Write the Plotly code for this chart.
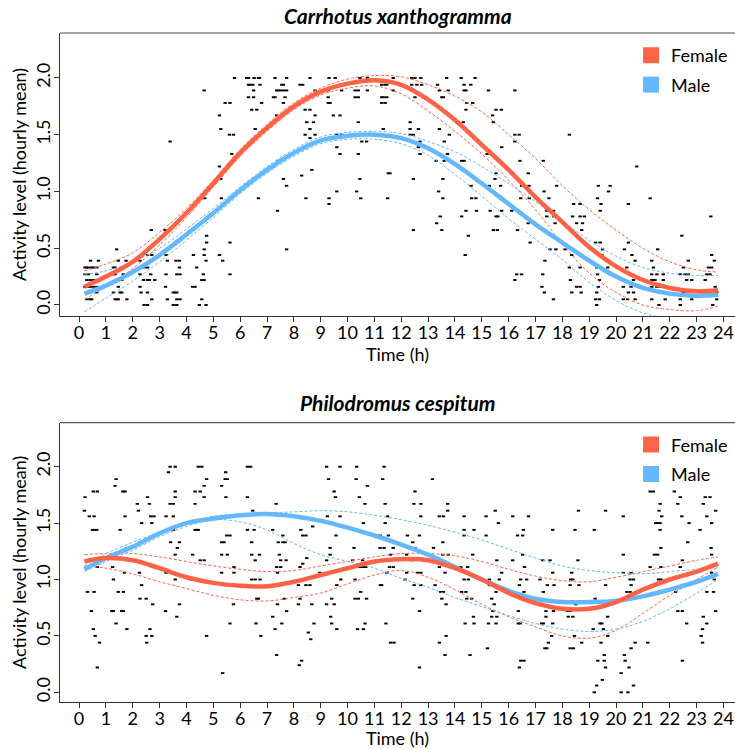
import plotly.graph_objects as go

# ---------------- data ----------------
HOURS = list(range(0, 25))
Y_TICKS = [0.0, 0.5, 1.0, 1.5, 2.0]
Y_TICK_LABELS = ["0.0", "0.5", "1.0", "1.5", "2.0"]

FIT_H = [0.2] + list(range(1, 24)) + [23.8]

# Carrhotus xanthogramma - fitted curves with upper / lower confidence limits
C_FEMALE = [0.16, 0.25, 0.38, 0.58, 0.81, 1.07, 1.34, 1.56, 1.75, 1.88, 1.95, 1.98, 1.94,
            1.81, 1.63, 1.41, 1.19, 0.95, 0.73, 0.51, 0.34, 0.22, 0.15, 0.12, 0.13]
C_FEMALE_UP = [0.30, 0.36, 0.46, 0.64, 0.85, 1.10, 1.37, 1.59, 1.78, 1.91, 1.99, 2.02, 2.01,
               1.94, 1.84, 1.70, 1.50, 1.29, 1.05, 0.84, 0.66, 0.50, 0.38, 0.31, 0.29]
C_FEMALE_LO = [0.05, 0.16, 0.32, 0.53, 0.77, 1.04, 1.31, 1.53, 1.72, 1.85, 1.91, 1.93, 1.86,
               1.71, 1.53, 1.33, 1.10, 0.84, 0.54, 0.28, 0.11, 0.00, -0.04, -0.05, -0.01]
C_MALE = [0.10, 0.17, 0.29, 0.44, 0.62, 0.81, 1.01, 1.19, 1.34, 1.45, 1.49, 1.50, 1.47,
          1.38, 1.24, 1.07, 0.89, 0.71, 0.55, 0.39, 0.25, 0.15, 0.10, 0.08, 0.09]
C_MALE_UP = [0.27, 0.30, 0.38, 0.50, 0.67, 0.85, 1.04, 1.22, 1.37, 1.48, 1.52, 1.53, 1.51,
             1.44, 1.35, 1.22, 1.07, 0.91, 0.74, 0.57, 0.43, 0.33, 0.28, 0.26, 0.26]
C_MALE_LO = [-0.06, 0.06, 0.21, 0.38, 0.57, 0.77, 0.98, 1.16, 1.31, 1.42, 1.46, 1.46, 1.42,
             1.32, 1.15, 0.96, 0.76, 0.58, 0.40, 0.20, 0.04, -0.07, -0.12, -0.13, -0.13]

# Philodromus cespitum - fitted curves with upper / lower confidence limits
P_FEMALE = [1.16, 1.19, 1.17, 1.10, 1.02, 0.97, 0.945, 0.94, 0.98, 1.04, 1.10, 1.16, 1.18,
            1.17, 1.10, 1.00, 0.88, 0.79, 0.74, 0.74, 0.80, 0.91, 1.00, 1.07, 1.14]
P_FEMALE_UP = [1.22, 1.23, 1.23, 1.20, 1.16, 1.12, 1.09, 1.07, 1.08, 1.12, 1.16, 1.20, 1.23,
               1.23, 1.21, 1.16, 1.09, 1.03, 0.99, 0.98, 1.02, 1.07, 1.12, 1.17, 1.20]
P_FEMALE_LO = [1.12, 1.10, 1.05, 0.98, 0.92, 0.86, 0.82, 0.81, 0.84, 0.88, 0.96, 1.04, 1.08,
               1.02, 0.91, 0.78, 0.67, 0.58, 0.50, 0.48, 0.55, 0.70, 0.86, 1.00, 1.11]
P_MALE = [1.09, 1.19, 1.29, 1.41, 1.50, 1.54, 1.57, 1.58, 1.56, 1.52, 1.46, 1.39, 1.31,
          1.22, 1.11, 1.00, 0.90, 0.83, 0.80, 0.80, 0.81, 0.85, 0.91, 0.98, 1.05]
P_MALE_UP = [1.12, 1.23, 1.33, 1.42, 1.50, 1.56, 1.58, 1.59, 1.60, 1.61, 1.60, 1.57, 1.53,
             1.48, 1.42, 1.35, 1.27, 1.19, 1.12, 1.08, 1.06, 1.05, 1.07, 1.09, 1.11]
P_MALE_LO = [1.07, 1.16, 1.26, 1.38, 1.47, 1.53, 1.51, 1.44, 1.32, 1.22, 1.16, 1.10, 1.01,
             0.93, 0.84, 0.76, 0.68, 0.61, 0.56, 0.54, 0.56, 0.63, 0.74, 0.88, 1.00]

# observed hourly means: (activity level, [hours ...])
C_POINTS = [
    (0.00, [2.42, 2.55, 3.51, 3.64, 4.48, 4.73, 19.28, 21.6, 22.39, 23.6]),
    (0.05, [0.29, 0.41, 0.47, 1.34, 1.40, 1.46, 1.78, 2.71, 3.29, 3.64, 3.76, 4.57, 17.67, 19.24,
            19.38, 20.27, 20.43, 20.71, 21.33, 21.83, 22.39, 22.82, 23.75]),
    (0.11, [0.41, 0.66, 1.28, 1.53, 1.59, 2.31, 2.55, 3.51, 3.58, 3.64, 17.33, 18.35, 18.70,
            19.28, 20.46, 20.65, 21.83, 22.51, 23.5, 23.75]),
    (0.16, [0.22, 0.35, 0.41, 0.53, 0.66, 1.46, 2.27, 3.22, 4.23, 4.32, 17.24, 18.53, 18.66,
            19.34, 20.27, 20.56, 21.33, 21.52, 21.64, 23.69]),
    (0.22, [0.29, 0.41, 0.53, 0.60, 0.78, 1.59, 2.40, 2.55, 2.62, 2.82, 4.57, 4.66, 16.23, 18.30,
            19.38, 20.65, 21.33, 21.39, 21.45, 21.76, 22.63, 22.82, 23.32]),
    (0.27, [0.22, 0.35, 0.66, 1.28, 1.34, 1.65, 2.27, 2.67, 3.24, 3.64, 3.76, 4.63, 5.62, 16.30,
            16.48, 17.27, 19.31, 19.78, 21.33, 21.52, 21.76, 22.39, 22.57, 22.69, 23.38, 23.5]),
    (0.33, [0.22, 0.29, 0.35, 0.47, 0.53, 0.66, 1.28, 1.34, 2.42, 2.55, 3.74, 4.38, 18.26, 18.66,
            19.28, 19.69, 20.40, 21.39, 22.51, 23.44, 23.56]),
    (0.39, [0.43, 0.72, 1.46, 1.75, 2.27, 3.29, 3.61, 3.74, 4.73, 5.35, 17.35, 19.72, 20.71,
            21.33, 22.69, 23.66]),
    (0.44, [2.55, 2.71, 3.24, 4.26, 4.66, 5.23, 14.38, 18.35, 19.47, 20.59, 23.56]),
    (0.49, [1.40, 4.66, 7.73, 17.54, 17.76, 18.10, 19.50, 20.31, 21.55]),
    (0.55, [4.75, 5.62, 16.80, 19.24, 19.41, 20.46]),
    (0.61, [4.75, 14.50, 22.45]),
    (0.66, [2.69, 3.20, 4.26, 12.45, 13.51, 15.43, 15.58, 16.33, 18.72]),
    (0.72, [13.32, 16.73, 17.73, 18.53, 18.75]),
    (0.78, [13.45, 14.25, 15.53, 15.60, 17.42, 17.69, 18.38, 18.66, 18.82, 23.53]),
    (0.83, [7.39, 14.41, 14.80, 15.31, 15.74, 16.11, 16.36, 17.42, 17.67, 19.41]),
    (0.89, [9.31, 18.42, 18.66, 19.44, 20.46]),
    (0.94, [4.68, 5.30, 6.68, 8.45, 9.31, 10.49, 11.49, 13.55, 14.62, 14.78, 16.45, 16.77, 17.50,
            19.31, 21.27]),
    (1.00, [9.6, 10.34, 13.39, 17.32, 19.72]),
    (1.05, [7.73, 14.60, 15.28, 15.70, 16.48, 16.76, 17.79, 19.34, 19.78]),
    (1.11, [5.28, 7.61, 10.46, 12.45, 13.55, 15.49]),
    (1.14, [8.29]),
    (1.16, [11.52, 11.58, 15.53, 16.73]),
    (1.19, [8.67]),
    (1.22, [5.23, 7.24, 20.77]),
    (1.27, [7.42, 13.30, 13.60, 14.25, 14.34, 15.62, 16.42, 17.29]),
    (1.33, [5.69, 9.72, 10.40, 12.70, 13.72, 15.20]),
    (1.39, [9.6, 12.64, 15.74]),
    (1.44, [3.39, 10.53, 10.71, 12.70, 13.60, 16.23]),
    (1.47, [8.6]),
    (1.50, [5.60, 5.75, 8.42, 8.79, 9.60, 9.78, 12.33, 12.45, 13.79, 16.23, 16.39, 18.26]),
    (1.55, [5.28, 6.56, 8.60, 11.33, 12.33, 12.64, 13.42]),
    (1.61, [8.48, 8.73, 10.40, 12.33, 14.31, 15.43]),
    (1.67, [5.23, 7.36, 8.79, 9.47, 9.72, 15.40]),
    (1.72, [6.43, 6.62, 8.42, 8.60, 14.41, 15.53, 15.73]),
    (1.78, [5.44, 5.62, 6.80, 7.61, 9.28, 9.35, 11.27, 11.40, 14.44, 14.66]),
    (1.83, [6.31, 6.50, 7.24, 7.30, 7.67, 8.54, 8.60, 9.28, 10.28, 10.40, 11.27, 11.33, 11.46,
            12.51, 12.80, 13.51, 13.57]),
    (1.89, [4.66, 6.50, 7.36, 7.42, 7.49, 7.61, 7.73, 8.79, 9.28, 9.78, 10.28, 10.40, 10.74,
            11.70, 13.42, 13.75, 14.34, 14.41, 15.25, 16.23]),
    (1.94, [6.31, 6.37, 6.47, 6.74, 7.55, 7.61, 8.23, 8.33, 11.27, 11.40, 11.46, 12.39, 12.58,
            12.76, 13.35, 14.34, 14.59]),
    (2.00, [5.79, 6.24, 6.31, 6.52, 6.68, 6.72, 7.30, 7.73, 8.60, 9.31, 9.54, 10.46, 10.74, 11.70,
            12.39, 12.51, 12.73, 13.69, 14.23, 14.75]),
]

P_POINTS = [
    (2.00, [3.39, 3.58, 4.44, 4.57, 6.27, 6.39, 9.22, 9.72, 10.34, 11.36]),
    (1.95, [3.33, 5.46]),
    (1.89, [1.38, 4.75, 5.44, 5.52, 9.29, 10.32, 11.31, 13.16]),
    (1.83, [1.34, 4.66, 5.31, 10.74]),
    (1.78, [0.53, 0.68, 1.63, 1.71, 3.58, 4.32, 4.51, 9.50, 12.51, 21.27, 21.39, 22.17]),
    (1.73, [0.22, 2.55, 3.58, 4.66, 5.47, 6.27, 9.55, 10.44, 22.39, 23.32, 23.50]),
    (1.67, [2.17, 2.62, 3.39, 3.51, 4.32, 7.34, 10.65, 11.40, 12.47, 12.73, 13.73, 21.64, 22.30,
            23.25]),
    (1.61, [0.20, 2.21, 6.47, 13.73, 15.50, 18.60, 19.61, 21.60, 23.71]),
    (1.56, [0.38, 0.56, 1.71, 2.67, 2.79, 3.24, 3.51, 9.25, 9.72, 11.49, 12.73, 13.42, 13.57,
            14.34, 15.16, 16.15, 16.74, 20.27, 21.70, 22.45, 23.38]),
    (1.50, [2.33, 2.71, 10.59, 11.40, 15.62, 21.48, 21.55, 21.64, 22.72, 23.56]),
    (1.47, [8.70]),
    (1.44, [0.50, 0.57, 0.66, 1.53, 3.51, 4.32, 4.38, 4.44, 6.27, 6.52, 7.21, 8.26, 14.34, 14.71,
            16.55, 17.64, 18.47, 19.19, 21.64, 23.13]),
    (1.39, [5.50, 5.62, 7.59, 8.33, 8.45, 9.57, 11.22, 11.52, 12.23, 12.68, 14.34, 15.16, 16.33,
            16.52]),
    (1.33, [2.27, 3.41, 3.74, 5.31, 5.40, 6.43, 7.42, 7.59, 7.67, 12.43, 13.55, 22.67]),
    (1.28, [1.78, 3.66, 9.35, 10.24, 11.21, 11.36, 11.70, 12.51, 13.20, 21.67, 23.54]),
    (1.22, [3.58, 4.23, 5.31, 5.52, 6.43, 6.72, 7.46, 9.35, 11.60, 12.20, 13.55, 13.75, 14.66,
            16.52, 20.27, 21.43, 21.55, 23.56]),
    (1.19, [8.48]),
    (1.17, [4.51, 4.66, 6.56, 7.51, 7.71, 9.22, 10.19, 10.56, 12.39, 13.45, 15.56, 16.15, 17.27,
            17.54, 18.58, 22.47]),
    (1.14, [8.33]),
    (1.11, [0.68, 1.25, 5.77, 7.36, 7.51, 8.23, 10.44, 10.56, 10.68, 11.56, 11.70, 13.42, 14.22,
            14.47, 16.59, 21.27, 21.67, 22.39]),
    (1.06, [1.69, 2.25, 3.24, 5.31, 5.77, 7.39, 8.97, 11.46, 12.20, 12.60, 12.73, 13.63, 15.74,
            17.64, 18.35, 20.27, 20.56, 23.56]),
    (1.00, [1.28, 3.58, 4.17, 6.43, 6.56, 6.74, 9.75, 10.28, 12.14, 14.34, 14.50, 15.28, 15.65,
            16.45, 16.67, 17.17, 18.31, 18.39, 20.52, 20.65, 21.58, 21.67, 23.66]),
    (0.95, [2.33, 5.40, 5.62, 8.17, 8.45, 8.60, 9.60, 11.22, 11.27, 12.48, 12.73, 13.26, 15.28,
            15.46, 16.40, 17.44, 17.69, 18.29, 18.62, 19.61, 20.56]),
    (0.89, [0.31, 0.56, 1.46, 1.65, 10.49, 13.47, 13.57, 14.25, 14.41, 15.53, 16.57, 17.29,
            20.40, 20.52, 22.22, 23.38, 23.63]),
    (0.83, [2.27, 2.50, 6.62, 6.68, 7.64, 8.23, 9.41, 10.28, 10.40, 10.71, 12.43, 13.51, 14.44,
            14.62, 15.37, 19.22, 20.24, 20.31, 20.56]),
    (0.78, [2.74, 3.74, 5.75, 7.39, 8.17, 8.67, 9.22, 9.50, 13.67, 15.46, 18.50]),
    (0.72, [0.46, 1.22, 1.28, 1.59, 1.65, 3.22, 7.73, 12.68, 15.41, 16.36, 17.39, 17.67, 18.19,
            18.31, 22.30, 22.47, 23.71]),
    (0.67, [3.64, 7.21, 9.37, 14.69, 15.37, 15.56, 17.39, 18.22, 18.39, 19.69, 23.25]),
    (0.61, [1.38, 5.62, 6.59, 7.55, 8.75, 9.41, 10.65, 11.43, 14.38, 14.71, 15.25, 15.53, 16.36,
            16.43, 17.23, 17.29, 17.64, 19.40, 19.47, 22.63, 23.38]),
    (0.56, [0.53, 1.78, 2.64, 7.30, 9.60, 10.37, 10.59, 19.15, 19.53, 23.22]),
    (0.53, [8.54]),
    (0.50, [0.60, 2.50, 2.71, 4.75, 6.77, 13.67, 17.60, 18.45, 19.69, 23.17]),
    (0.47, [8.63]),
    (0.44, [0.76, 2.52, 11.60, 11.73, 13.42, 17.48, 18.72, 19.44, 20.71, 21.18, 23.22]),
    (0.39, [15.21, 17.35, 17.42, 18.29, 18.41, 20.56]),
    (0.33, [7.36, 13.63, 14.56, 19.56, 20.31]),
    (0.28, [8.29, 16.45, 16.57, 19.32, 19.56, 20.34, 22.47]),
    (0.24, [8.20]),
    (0.22, [0.68, 12.68, 16.40, 19.61, 20.48]),
    (0.17, [5.35, 20.19]),
    (0.11, [19.49]),
    (0.06, [19.28, 20.65]),
    (0.00, [19.19, 20.19, 20.44]),
]

TITLES = ["Carrhotus xanthogramma", "Philodromus cespitum"]
SEX_NAMES = ["Female", "Male"]
RED = "#FF6347"
BLUE = "#63B8FF"
FONT = "Lato"


def flatten(rows):
    xs, ys = [], []
    for v, hs in rows:
        for h in hs:
            xs.append(h)
            ys.append(v)
    return xs, ys


fig = go.Figure()

panels = [
    ("x", "y", C_POINTS, (C_FEMALE, C_FEMALE_UP, C_FEMALE_LO),
     (C_MALE, C_MALE_UP, C_MALE_LO), "legend"),
    ("x2", "y2", P_POINTS, (P_FEMALE, P_FEMALE_UP, P_FEMALE_LO),
     (P_MALE, P_MALE_UP, P_MALE_LO), "legend2"),
]

for xa, ya, pts, fem, mal, lg in panels:
    px, py = flatten(pts)
    fig.add_trace(go.Scatter(
        x=px, y=py, mode="markers", xaxis=xa, yaxis=ya, showlegend=False,
        marker=dict(symbol="line-ew", size=2.4, color="black",
                    line=dict(width=1.9, color="black")),
        hoverinfo="skip"))
    for curves, col in [(fem, RED), (mal, BLUE)]:
        for band in curves[1:]:
            fig.add_trace(go.Scatter(
                x=FIT_H, y=band,
                mode="lines", line=dict(color=col, width=1, dash="3px,2px", shape="spline"),
                xaxis=xa, yaxis=ya, showlegend=False, hoverinfo="skip"))
    for curves, col in [(mal, BLUE), (fem, RED)]:
        fig.add_trace(go.Scatter(
            x=FIT_H, y=curves[0], mode="lines",
            line=dict(color=col, width=4.5, shape="spline"),
            xaxis=xa, yaxis=ya, showlegend=False, hoverinfo="skip"))
    for name, col in zip(SEX_NAMES, [RED, BLUE]):
        fig.add_trace(go.Scatter(
            x=[None], y=[None], mode="markers", name=name, legend=lg,
            legendgroup=name + lg, xaxis=xa, yaxis=ya,
            marker=dict(symbol="square", size=16, color=col)))

axis_common = dict(showgrid=False, zeroline=False, showline=True, linecolor="#333",
                   linewidth=1, ticks="outside", ticklen=5, tickcolor="#333",
                   tickfont=dict(family=FONT, size=18, color="black"))

xcommon = dict(axis_common, range=[-0.71, 24.43], tickmode="array", tickvals=HOURS,
               ticktext=[str(h) for h in HOURS], ticklabelstandoff=-5,
               title=dict(text="Time (h)", font=dict(family=FONT, size=18, color="black"),
                          standoff=0))
ycommon = dict(axis_common, tickmode="array", tickvals=Y_TICKS, ticktext=Y_TICK_LABELS,
               tickangle=-90, ticklabelstandoff=-3,
               title=dict(text="Activity level (hourly mean)",
                          font=dict(family=FONT, size=18, color="black"), standoff=0))

fig.update_layout(
    width=735, height=749,
    margin=dict(l=60, r=0, t=33, b=47),
    plot_bgcolor="white", paper_bgcolor="white",
    xaxis=dict(xcommon, domain=[0, 1], anchor="y"),
    yaxis=dict(ycommon, domain=[0.577, 1.0], anchor="x", range=[-0.097, 2.396]),
    xaxis2=dict(xcommon, domain=[0, 1], anchor="y2"),
    yaxis2=dict(ycommon, domain=[0.0, 0.4175], anchor="x2", range=[-0.086, 2.39]),
    legend=dict(x=0.846, y=0.994, xanchor="left", yanchor="top", tracegroupgap=3,
                bgcolor="rgba(0,0,0,0)", font=dict(family=FONT, size=18, color="black")),
    legend2=dict(x=0.846, y=0.412, xanchor="left", yanchor="top", tracegroupgap=3,
                 bgcolor="rgba(0,0,0,0)", font=dict(family=FONT, size=18, color="black")),
    shapes=[
        dict(type="line", xref="x domain", yref="y domain", x0=0, x1=1, y0=1, y1=1,
             line=dict(color="#888", width=1.5)),
        dict(type="line", xref="x2 domain", yref="y2 domain", x0=0, x1=1, y0=1, y1=1,
             line=dict(color="#333", width=1)),
    ],
    annotations=[
        dict(text="<b><i>" + TITLES[0] + "</i></b>", x=0.5, y=1.0, xref="paper",
             yref="paper", yanchor="middle", yshift=18, showarrow=False,
             font=dict(family=FONT, size=21, color="black")),
        dict(text="<b><i>" + TITLES[1] + "</i></b>", x=0.5, y=0.4175, xref="paper",
             yref="paper", yanchor="middle", yshift=20, showarrow=False,
             font=dict(family=FONT, size=21, color="black")),
    ],
)

fig.write_html("out.html", config={"displayModeBar": False},
               post_script="document.body.style.margin='0';document.body.style.overflow='hidden';")
